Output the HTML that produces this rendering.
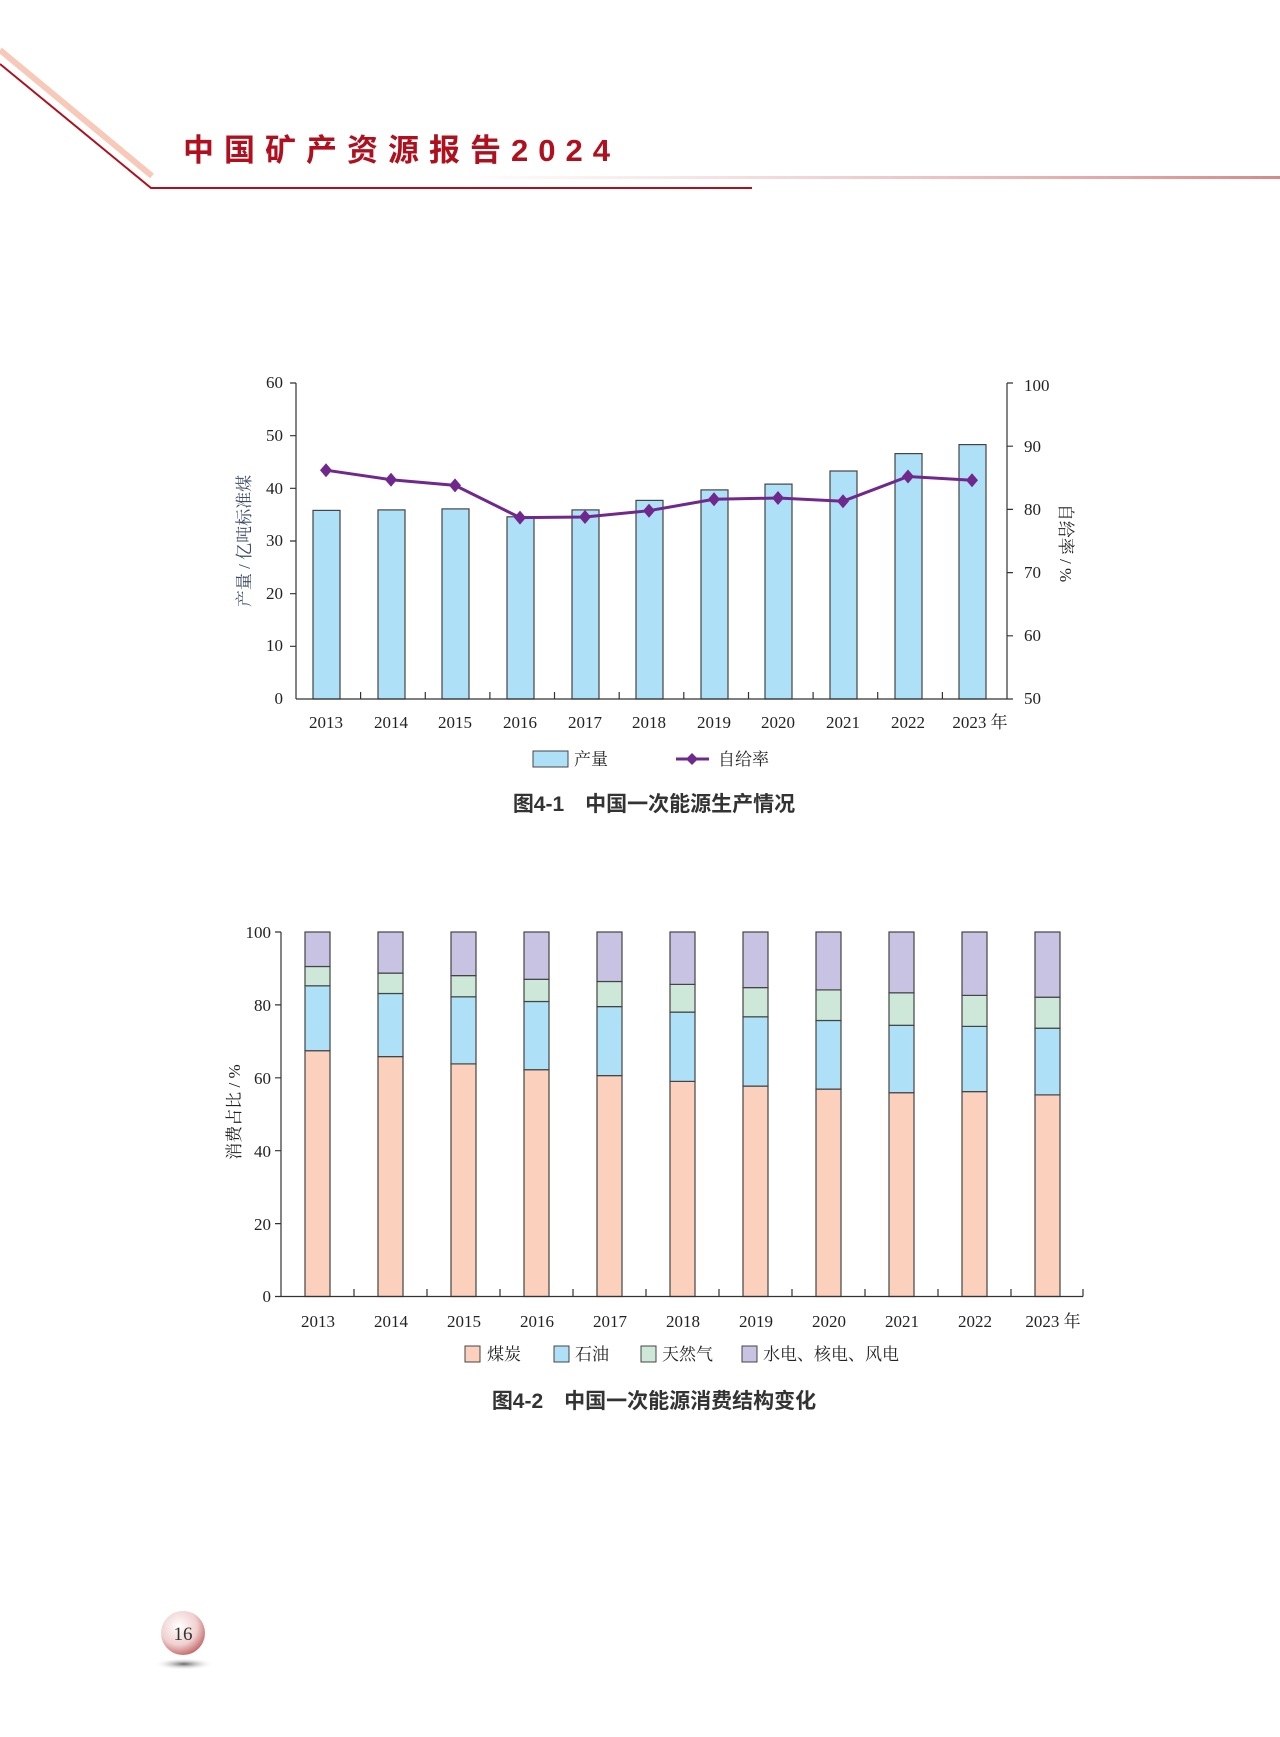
<!DOCTYPE html>
<html><head><meta charset="utf-8"><style>
html,body{margin:0;padding:0;background:#fff;}
svg{display:block;font-family:"Liberation Serif","Noto Serif CJK SC",serif;}
.s{font-family:"Liberation Sans","Noto Sans CJK SC",sans-serif;}
</style></head><body>
<svg width="1280" height="1737" viewBox="0 0 1280 1737" xmlns="http://www.w3.org/2000/svg">
<defs>
<linearGradient id="pg" x1="0" x2="1"><stop offset="0" stop-color="#e8b0b0" stop-opacity="0"/><stop offset="1" stop-color="#d88888"/></linearGradient>
<radialGradient id="pc" cx="0.4" cy="0.35" r="0.7"><stop offset="0" stop-color="#fff"/><stop offset="0.6" stop-color="#f0d0d0"/><stop offset="1" stop-color="#c06060"/></radialGradient>
<radialGradient id="sh" cx="0.5" cy="0.5" r="0.5"><stop offset="0" stop-color="#666"/><stop offset="1" stop-color="#fff" stop-opacity="0"/></radialGradient>
</defs>
<line x1="0" y1="50" x2="152" y2="176" stroke="#f8c8b8" stroke-width="6"/>
<polyline points="0,64 151,188 752,188" fill="none" stroke="#b0101e" stroke-width="2"/>
<rect x="443" y="176" width="837" height="3" fill="url(#pg)"/>
<text x="183" y="161" class="s" font-size="31" font-weight="bold" fill="#b0101e" letter-spacing="10">中国矿产资源报告2024</text>

<g font-size="17" fill="#222">
<g stroke="#444" stroke-width="1.2" fill="#aee0f8">
<rect x="313" y="510.4" width="27" height="188.6"/>
<rect x="378" y="509.9" width="27" height="189.1"/>
<rect x="442" y="508.9" width="27" height="190.1"/>
<rect x="507" y="516.8" width="27" height="182.2"/>
<rect x="572" y="509.9" width="27" height="189.1"/>
<rect x="636" y="500.4" width="27" height="198.6"/>
<rect x="701" y="489.9" width="27" height="209.1"/>
<rect x="765" y="484.1" width="27" height="214.9"/>
<rect x="830" y="471" width="27" height="228"/>
<rect x="895" y="453.6" width="27" height="245.4"/>
<rect x="959" y="444.6" width="27" height="254.4"/>
</g>
<g stroke="#333" stroke-width="1.2" fill="none">
<line x1="296" y1="383" x2="296" y2="699"/>
<line x1="296" y1="699" x2="1007" y2="699"/>
<line x1="1007" y1="383" x2="1007" y2="699"/>
<path d="M290 383H296M290 435.7H296M290 488.3H296M290 541H296M290 593.7H296M290 646.3H296M1007 383H1013M1007 446.2H1013M1007 509.4H1013M1007 572.6H1013M1007 635.8H1013M1007 699H1013"/>
<path d="M360.6 699V692M425.3 699V692M489.9 699V692M554.5 699V692M619.2 699V692M683.8 699V692M748.5 699V692M813.1 699V692M877.7 699V692M942.4 699V692"/>
</g>
<polyline fill="none" stroke="#70288c" stroke-width="3" points="326,470.2 391,479.7 455,485.4 520,517.6 585,517 649,510.7 714,499.3 778,498 843,501.2 908,476.5 972,480.3"/>
<g fill="#70288c">
<path d="M326 463.2l6 7-6 7-6-7z M391 472.7l6 7-6 7-6-7z M455 478.4l6 7-6 7-6-7z M520 510.6l6 7-6 7-6-7z M585 510l6 7-6 7-6-7z M649 503.7l6 7-6 7-6-7z M714 492.3l6 7-6 7-6-7z M778 491l6 7-6 7-6-7z M843 494.2l6 7-6 7-6-7z M908 469.5l6 7-6 7-6-7z M972 473.3l6 7-6 7-6-7z"/>
</g>
<g text-anchor="end">
<text x="283" y="388">60</text><text x="283" y="441">50</text><text x="283" y="494">40</text><text x="283" y="546">30</text><text x="283" y="599">20</text><text x="283" y="651">10</text><text x="283" y="704">0</text>
</g>
<g text-anchor="start">
<text x="1024" y="391">100</text><text x="1024" y="452">90</text><text x="1024" y="515">80</text><text x="1024" y="578">70</text><text x="1024" y="641">60</text><text x="1024" y="704">50</text>
</g>
<g text-anchor="middle">
<text x="326" y="728">2013</text><text x="391" y="728">2014</text><text x="455" y="728">2015</text><text x="520" y="728">2016</text><text x="585" y="728">2017</text><text x="649" y="728">2018</text><text x="714" y="728">2019</text><text x="778" y="728">2020</text><text x="843" y="728">2021</text><text x="908" y="728">2022</text><text x="980" y="728">2023 年</text>
</g>
<text transform="translate(250,541) rotate(-90)" text-anchor="middle" fill="#3a4a6a">产量 / 亿吨标准煤</text>
<text transform="translate(1060,543) rotate(90)" text-anchor="middle">自给率 / %</text>
<rect x="533" y="751" width="35" height="16" fill="#aee0f8" stroke="#444"/>
<text x="574" y="765">产量</text>
<line x1="676" y1="759" x2="709" y2="759" stroke="#70288c" stroke-width="3"/>
<path d="M692 753l6 6-6 6-6-6z" fill="#70288c"/>
<text x="718" y="765">自给率</text>
</g>
<text x="654" y="811" text-anchor="middle" class="s" font-size="21" font-weight="bold" fill="#333">图4-1　中国一次能源生产情况</text>

<g font-size="17" fill="#222">
<g stroke="#444" stroke-width="1.2">
<rect x="305" y="1050.7" width="25" height="245.8" fill="#fbd0bd"/><rect x="305" y="985.8" width="25" height="64.9" fill="#aee0f8"/><rect x="305" y="966.5" width="25" height="19.3" fill="#cde8d8"/><rect x="305" y="932" width="25" height="34.5" fill="#c8c3e3"/>
<rect x="378" y="1056.6" width="25" height="239.9" fill="#fbd0bd"/><rect x="378" y="993.5" width="25" height="63.1" fill="#aee0f8"/><rect x="378" y="973.1" width="25" height="20.4" fill="#cde8d8"/><rect x="378" y="932" width="25" height="41.1" fill="#c8c3e3"/>
<rect x="451" y="1063.9" width="25" height="232.6" fill="#fbd0bd"/><rect x="451" y="996.8" width="25" height="67.1" fill="#aee0f8"/><rect x="451" y="975.6" width="25" height="21.2" fill="#cde8d8"/><rect x="451" y="932" width="25" height="43.6" fill="#c8c3e3"/>
<rect x="524" y="1069.7" width="25" height="226.8" fill="#fbd0bd"/><rect x="524" y="1001.5" width="25" height="68.2" fill="#aee0f8"/><rect x="524" y="979.3" width="25" height="22.2" fill="#cde8d8"/><rect x="524" y="932" width="25" height="47.3" fill="#c8c3e3"/>
<rect x="597" y="1075.6" width="25" height="220.9" fill="#fbd0bd"/><rect x="597" y="1006.6" width="25" height="69" fill="#aee0f8"/><rect x="597" y="981.5" width="25" height="25.1" fill="#cde8d8"/><rect x="597" y="932" width="25" height="49.5" fill="#c8c3e3"/>
<rect x="670" y="1081.4" width="25" height="215.1" fill="#fbd0bd"/><rect x="670" y="1012.1" width="25" height="69.3" fill="#aee0f8"/><rect x="670" y="984.4" width="25" height="27.7" fill="#cde8d8"/><rect x="670" y="932" width="25" height="52.4" fill="#c8c3e3"/>
<rect x="743" y="1086.1" width="25" height="210.4" fill="#fbd0bd"/><rect x="743" y="1016.8" width="25" height="69.3" fill="#aee0f8"/><rect x="743" y="987.6" width="25" height="29.2" fill="#cde8d8"/><rect x="743" y="932" width="25" height="55.6" fill="#c8c3e3"/>
<rect x="816" y="1089.1" width="25" height="207.4" fill="#fbd0bd"/><rect x="816" y="1020.5" width="25" height="68.6" fill="#aee0f8"/><rect x="816" y="989.9" width="25" height="30.6" fill="#cde8d8"/><rect x="816" y="932" width="25" height="57.9" fill="#c8c3e3"/>
<rect x="889" y="1092.7" width="25" height="203.8" fill="#fbd0bd"/><rect x="889" y="1025.3" width="25" height="67.4" fill="#aee0f8"/><rect x="889" y="992.8" width="25" height="32.5" fill="#cde8d8"/><rect x="889" y="932" width="25" height="60.8" fill="#c8c3e3"/>
<rect x="962" y="1091.6" width="25" height="204.9" fill="#fbd0bd"/><rect x="962" y="1026.4" width="25" height="65.2" fill="#aee0f8"/><rect x="962" y="995.4" width="25" height="31" fill="#cde8d8"/><rect x="962" y="932" width="25" height="63.4" fill="#c8c3e3"/>
<rect x="1035" y="1094.9" width="25" height="201.6" fill="#fbd0bd"/><rect x="1035" y="1028.2" width="25" height="66.7" fill="#aee0f8"/><rect x="1035" y="997.2" width="25" height="31" fill="#cde8d8"/><rect x="1035" y="932" width="25" height="65.2" fill="#c8c3e3"/>
</g>
<g stroke="#333" stroke-width="1.2" fill="none">
<line x1="281" y1="932" x2="281" y2="1296.5"/>
<line x1="281" y1="1296.5" x2="1083" y2="1296.5"/>
<path d="M275 932H281M275 1004.9H281M275 1077.8H281M275 1150.7H281M275 1223.6H281M275 1296.5H281"/>
<path d="M354 1296.5V1289M427 1296.5V1289M500 1296.5V1289M573 1296.5V1289M646 1296.5V1289M719 1296.5V1289M792 1296.5V1289M865 1296.5V1289M938 1296.5V1289M1011 1296.5V1289M1083 1296.5V1289"/>
</g>
<g text-anchor="end">
<text x="271" y="938">100</text><text x="271" y="1011">80</text><text x="271" y="1084">60</text><text x="271" y="1157">40</text><text x="271" y="1230">20</text><text x="271" y="1302">0</text>
</g>
<g text-anchor="middle">
<text x="318" y="1327">2013</text><text x="391" y="1327">2014</text><text x="464" y="1327">2015</text><text x="537" y="1327">2016</text><text x="610" y="1327">2017</text><text x="683" y="1327">2018</text><text x="756" y="1327">2019</text><text x="829" y="1327">2020</text><text x="902" y="1327">2021</text><text x="975" y="1327">2022</text><text x="1053" y="1327">2023 年</text>
</g>
<text transform="translate(240,1112) rotate(-90)" text-anchor="middle">消费占比 / %</text>
<rect x="465" y="1346" width="15" height="16" fill="#fbd0bd" stroke="#444"/><text x="487" y="1360">煤炭</text>
<rect x="554" y="1346" width="15" height="16" fill="#aee0f8" stroke="#444"/><text x="575" y="1360">石油</text>
<rect x="641" y="1346" width="15" height="16" fill="#cde8d8" stroke="#444"/><text x="662" y="1360">天然气</text>
<rect x="742" y="1346" width="15" height="16" fill="#c8c3e3" stroke="#444"/><text x="763" y="1360">水电、核电、风电</text>
</g>
<text x="654" y="1408" text-anchor="middle" class="s" font-size="21" font-weight="bold" fill="#333">图4-2　中国一次能源消费结构变化</text>

<ellipse cx="184" cy="1664" rx="30" ry="6" fill="url(#sh)"/>
<circle cx="183" cy="1633" r="22" fill="url(#pc)"/>
<text x="183" y="1640" text-anchor="middle" font-size="19" fill="#333">16</text>
</svg>
</body></html>
